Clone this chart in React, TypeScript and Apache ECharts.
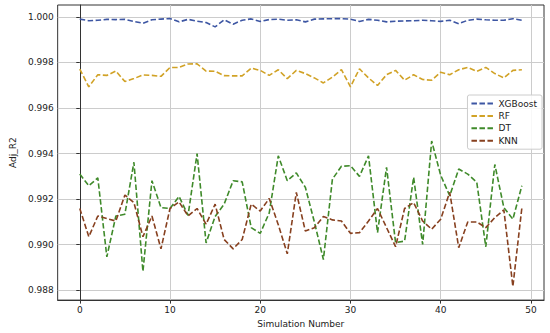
import React, { useEffect, useRef } from 'react';
import * as echarts from 'echarts';

const SERIES_NAMES = ['XGBoost', 'RF', 'DT', 'KNN'];
const COLORS = ['#3d56a3', '#d1a226', '#3f8a2a', '#87401f'];

const XGB = [0.99990, 0.99983, 0.99985, 0.99989, 0.99988, 0.99989, 0.99980, 0.99972, 0.99987, 0.99990,
  0.99993, 0.99978, 0.99989, 0.99981, 0.99975, 0.99956, 0.99987, 0.99968, 0.99985, 0.99991,
  0.99980, 0.99988, 0.99990, 0.99985, 0.99987, 0.99978, 0.99990, 0.99991, 0.99992, 0.99992,
  0.99990, 0.99980, 0.99989, 0.99985, 0.99978, 0.99981, 0.99982, 0.99983, 0.99985, 0.99983,
  0.99980, 0.99985, 0.99970, 0.99985, 0.99990, 0.99987, 0.99985, 0.99985, 0.99992, 0.99985];

const RF = [0.99771, 0.99693, 0.99746, 0.99743, 0.99762, 0.99716, 0.99729, 0.99745, 0.99743, 0.99739,
  0.99778, 0.99778, 0.99793, 0.99794, 0.99762, 0.99761, 0.99742, 0.99741, 0.99741, 0.99775,
  0.99765, 0.99743, 0.99768, 0.99729, 0.99765, 0.99751, 0.99732, 0.99710, 0.99736, 0.99768,
  0.99693, 0.99772, 0.99732, 0.99699, 0.99746, 0.99765, 0.99722, 0.99746, 0.99725, 0.99722,
  0.99757, 0.99746, 0.99768, 0.99778, 0.99761, 0.99778, 0.99751, 0.99732, 0.99765, 0.99768];

const DT = [0.99310, 0.99259, 0.99293, 0.98947, 0.99126, 0.99134, 0.99362, 0.98883, 0.99281, 0.99163,
  0.99159, 0.99212, 0.99129, 0.99400, 0.99008, 0.99124, 0.99178, 0.99281, 0.99276, 0.99075,
  0.99050, 0.99140, 0.99390, 0.99281, 0.99315, 0.99252, 0.99100, 0.98935, 0.99288, 0.99344,
  0.99347, 0.99300, 0.99390, 0.99053, 0.99340, 0.99009, 0.99016, 0.99296, 0.99001, 0.99455,
  0.99305, 0.99215, 0.99332, 0.99310, 0.99274, 0.98991, 0.99352, 0.99163, 0.99112, 0.99259];

const KNN = [0.99159, 0.99035, 0.99126, 0.99115, 0.99104, 0.99218, 0.99185, 0.99035, 0.99126, 0.98982,
  0.99159, 0.99188, 0.99126, 0.99159, 0.99090, 0.99178, 0.99023, 0.98982, 0.99023, 0.99178,
  0.99148, 0.99203, 0.99088, 0.98960, 0.99230, 0.99060, 0.99075, 0.99124, 0.99109, 0.99104,
  0.99050, 0.99053, 0.99104, 0.99159, 0.99075, 0.98991, 0.99159, 0.99185, 0.99104, 0.99068,
  0.99112, 0.99230, 0.98987, 0.99100, 0.99100, 0.99075, 0.99119, 0.99153, 0.98817, 0.99163];

const X_TICKS = [0, 10, 20, 30, 40, 50];
const Y_TICKS = [0.988, 0.990, 0.992, 0.994, 0.996, 0.998, 1.000];

const FONT = 'DejaVu Sans';

export default function App() {
  const ref = useRef<HTMLDivElement>(null);
  useEffect(() => {
    if (!ref.current) return;
    const chart = echarts.init(ref.current, undefined, { renderer: 'svg' });
    const all = [XGB, RF, DT, KNN];
    const series = all.map((arr, k) => ({
      name: SERIES_NAMES[k],
      type: 'line',
      data: arr.map((v, i) => [i, v]),
      showSymbol: false,
      symbol: 'none',
      color: COLORS[k],
      lineStyle: { color: COLORS[k], width: 1.6, type: [5.5, 2.5] },
      z: 2 + k,
    }));
    chart.setOption({
      animation: false,
      backgroundColor: '#ffffff',
      textStyle: { fontFamily: FONT },
      grid: {
        left: 50, right: 6, top: 5, bottom: 32,
        show: true, borderColor: '#333333', borderWidth: 1,
      },
      legend: {
        orient: 'vertical',
        right: 8, top: 95,
        itemWidth: 22, itemHeight: 10, itemGap: 3.4,
        padding: [4, 5, 4, 3],
        backgroundColor: 'rgba(255,255,255,0.85)',
        borderColor: '#cccccc', borderWidth: 1, borderRadius: 2,
        itemStyle: { opacity: 0 },
        textStyle: { fontFamily: FONT, fontSize: 9, color: '#222' },
        data: SERIES_NAMES,
      },
      xAxis: {
        type: 'value',
        min: -2.45, max: 51.45,
        splitNumber: 5,
        name: 'Simulation Number',
        nameLocation: 'middle',
        nameGap: 17,
        nameTextStyle: { fontFamily: FONT, fontSize: 9, color: '#222' },
        axisLine: { show: true, lineStyle: { color: '#333333', width: 1 } },
        axisTick: { show: true, length: 3.5, lineStyle: { color: '#333333' }, customValues: X_TICKS },
        axisLabel: { fontFamily: FONT, fontSize: 9, color: '#222', margin: 5, customValues: X_TICKS, formatter: (v: number) => String(v) },
        splitLine: { show: true, lineStyle: { color: '#cccccc', width: 1 } },
      },
      yAxis: {
        type: 'value',
        min: 0.98757, max: 1.00052,
        splitNumber: 6,
        name: 'Adj_R2',
        nameLocation: 'middle',
        nameGap: 36,
        nameTextStyle: { fontFamily: FONT, fontSize: 9, color: '#222' },
        axisLine: { show: true, lineStyle: { color: '#333333', width: 1 } },
        axisTick: { show: true, length: 3.5, lineStyle: { color: '#333333' }, customValues: Y_TICKS },
        axisLabel: { fontFamily: FONT, fontSize: 9, color: '#222', margin: 4, customValues: Y_TICKS, formatter: (v: number) => v.toFixed(3) },
        splitLine: { show: true, lineStyle: { color: '#cccccc', width: 1 } },
      },
      series,
    });
    return () => chart.dispose();
  }, []);
  return <div ref={ref} style={{ position: 'fixed', left: 0, top: 0, width: 550, height: 333 }} />;
}
